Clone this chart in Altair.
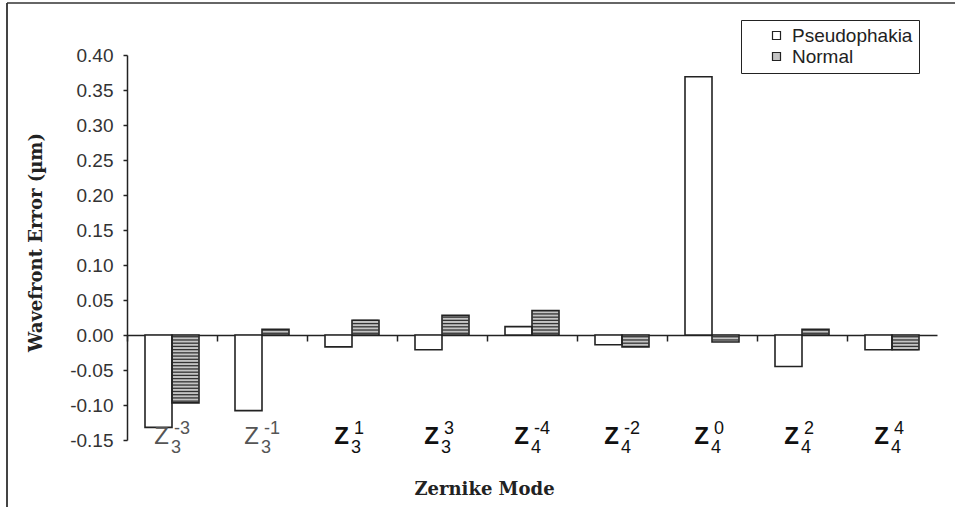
import altair as alt
import pandas as pd

# ---- data ----
modes = ["Z3^-3", "Z3^-1", "Z3^1", "Z3^3", "Z4^-4", "Z4^-2", "Z4^0", "Z4^2", "Z4^4"]
mode_sub = ["3", "3", "3", "3", "4", "4", "4", "4", "4"]
mode_sup = ["-3", "-1", "1", "3", "-4", "-2", "0", "2", "4"]
mode_bold = [False, False, True, True, True, True, True, True, True]
series = ["Pseudophakia", "Normal"]
pseudophakia = [-0.132, -0.108, -0.017, -0.021, 0.012, -0.014, 0.369, -0.045, -0.021]
normal = [-0.097, 0.008, 0.021, 0.028, 0.035, -0.017, -0.010, 0.008, -0.021]
y_ticks = [-0.15, -0.10, -0.05, 0.00, 0.05, 0.10, 0.15, 0.20, 0.25, 0.30, 0.35, 0.40]

rows = []
for m, p, n in zip(modes, pseudophakia, normal):
    rows.append({"mode": m, "series": "Pseudophakia", "value": p})
    rows.append({"mode": m, "series": "Normal", "value": n})
df = pd.DataFrame(rows)

labels = pd.DataFrame({"mode": modes, "sub": mode_sub, "sup": mode_sup, "bold": mode_bold})

W, H = 810, 385
SANS = "Liberation Sans"
SERIF = "DejaVu Serif"

xscale = alt.Scale(paddingInner=0.4, paddingOuter=0.2)
xaxis = alt.Axis(
    labels=False, bandPosition=0, tickOffset=-18, tickSize=6, tickColor="#222", tickWidth=1.5,
    domainColor="#222", domainWidth=1.5, offset=-105,
    title="Zernike Mode", titleFont=SERIF, titleFontSize=18, titleFontWeight="bold",
    titleColor="#222", titleX=357, titleY=159, titleAlign="center",
    titleBaseline="alphabetic", titleAnchor="start",
)
yscale = alt.Scale(domain=[-0.15, 0.40], nice=False, zero=False)
yaxis = alt.Axis(
    values=y_ticks, labelExpr="replace(format(datum.value, '.2f'), '\u2212', '-')",
    labelOverlap=False, labelFont=SANS, labelFontSize=19, labelColor="#333",
    tickSize=4, tickColor="#222", tickWidth=1.5, labelPadding=10, domainColor="#222",
    domainWidth=1.5, grid=False,
    title="Wavefront Error (µm)", titleFont=SERIF, titleFontSize=18,
    titleFontWeight="bold", titleColor="#222", titleX=-91, titleY=187,
    titleAngle=270, titleAlign="center", titleBaseline="middle",
)

xenc = alt.X("mode:N", sort=modes, scale=xscale, axis=xaxis)
xoff = alt.XOffset("series:N", sort=series)

base = alt.Chart(df)

bars = base.mark_bar(strokeWidth=0).encode(
    x=xenc, xOffset=xoff,
    y=alt.Y("value:Q", scale=yscale, axis=yaxis),
    color=alt.Color(
        "series:N", sort=series,
        scale=alt.Scale(domain=series, range=["#ffffff", "#c4c4c4"]),
        legend=alt.Legend(
            title=None, orient="none", legendX=614, legendY=-35,
            symbolType="square", symbolSize=64, symbolStrokeColor="#222",
            symbolStrokeWidth=1.2, labelFont=SANS, labelFontSize=19, labelColor="#222",
            strokeColor="#222", padding=6, rowPadding=1,
            symbolOffset=20, labelOffset=6, fillColor="white",
        ),
    ),
)

stripes = base.transform_filter(alt.datum.series == "Normal").transform_calculate(
    stripe="datum.value > 0 ? sequence(0.0025, datum.value, 0.0046) : sequence(-0.0025, datum.value, -0.0046)"
).transform_flatten(["stripe"]).mark_tick(
    orient="horizontal", size=26, thickness=1.3, color="#333333", opacity=1
).encode(
    x=xenc, xOffset=xoff,
    y=alt.Y("stripe:Q", scale=yscale, axis=yaxis),
)

outline = base.mark_bar(fillOpacity=0, stroke="#222", strokeWidth=1.6).encode(
    x=xenc, xOffset=xoff,
    y=alt.Y("value:Q", scale=yscale, axis=yaxis), y2=alt.datum(0),
)

lab = alt.Chart(labels)


def label_layers(is_bold):
    sub = lab.transform_filter(alt.datum.bold == is_bold)
    weight = "bold" if is_bold else "normal"
    col = "#111" if is_bold else "#555"
    z = sub.mark_text(
        text="Z", font=SANS, fontSize=24, fontWeight=weight, color=col,
        align="right", baseline="alphabetic", dx=-3,
    ).encode(x=xenc, y=alt.value(389))
    s = sub.mark_text(
        font=SANS, fontSize=18, color=col, align="left", baseline="alphabetic", dx=-1,
    ).encode(x=xenc, y=alt.value(398), text="sub:N")
    p = sub.mark_text(
        font=SANS, fontSize=18, color=col, align="left", baseline="alphabetic", dx=2,
    ).encode(x=xenc, y=alt.value(379), text="sup:N")
    return [z, s, p]


# figure frame (left and top edges visible in the reference)
frame_left = alt.Chart(pd.DataFrame({"a": [0]})).mark_rule(color="#444", strokeWidth=2).encode(
    x=alt.value(-120), y=alt.value(-52), y2=alt.value(460)
)
frame_top = alt.Chart(pd.DataFrame({"a": [0]})).mark_rule(color="#333", strokeWidth=1.5).encode(
    x=alt.value(-120), x2=alt.value(830), y=alt.value(-52)
)

chart = alt.layer(
    bars, stripes, outline, *label_layers(False), *label_layers(True), frame_left, frame_top
).properties(
    width=W, height=H,
    autosize=alt.AutoSizeParams(type="none"),
    padding={"left": 127, "top": 55, "right": 18, "bottom": 67},
).configure(
    background="white",
    view=alt.ViewConfig(stroke=None),
    axis=alt.AxisConfig(labelOverlap=False),
)

chart.save("out.html", embed_options={"renderer": "svg", "actions": False})
